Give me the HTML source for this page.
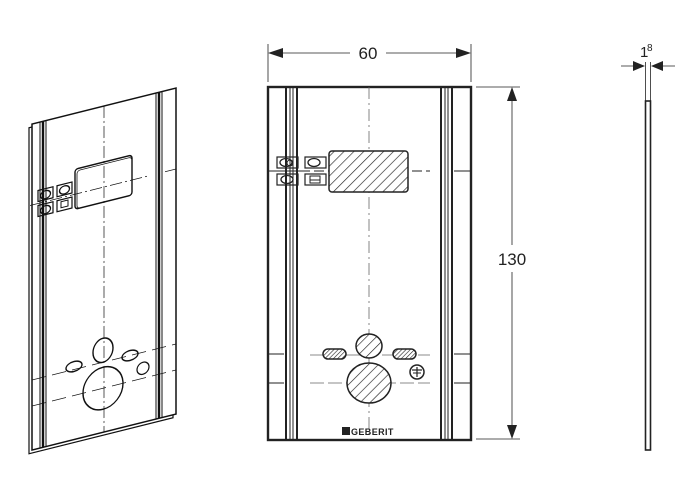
<!DOCTYPE html>
<html><head><style>
html,body{margin:0;padding:0;background:#fff;}
svg{display:block;}
text{font-family:"Liberation Sans",sans-serif;fill:#222;}
</style></head><body>
<svg width="687" height="479" viewBox="0 0 687 479" xmlns="http://www.w3.org/2000/svg">
<defs>
<pattern id="h" patternUnits="userSpaceOnUse" width="7" height="7" patternTransform="rotate(45)">
<rect width="7" height="7" fill="#fff"/><line x1="0" y1="0" x2="0" y2="7" stroke="#222" stroke-width="1.3"/>
</pattern>
<pattern id="h2" patternUnits="userSpaceOnUse" width="3" height="3" patternTransform="rotate(45)">
<rect width="3" height="3" fill="#fff"/><line x1="0" y1="0" x2="0" y2="3" stroke="#222" stroke-width="1.2"/>
</pattern>
</defs>

<!-- ISOMETRIC VIEW -->
<g transform="matrix(1,-0.25,0,1,0,8)" stroke="#111" fill="none">
  <rect x="29" y="127" width="144" height="326" stroke-width="1.2"/>
  <rect x="32" y="124" width="144" height="326" fill="#fff" stroke-width="1.5"/>
  <line x1="40" y1="124" x2="40" y2="450" stroke-width="1"/>
  <line x1="43" y1="124" x2="43" y2="450" stroke-width="2.4"/>
  <line x1="46" y1="124" x2="46" y2="450" stroke-width="1"/>
  <line x1="156" y1="124" x2="156" y2="450" stroke-width="1"/>
  <line x1="159" y1="124" x2="159" y2="450" stroke-width="2.4"/>
  <line x1="162" y1="124" x2="162" y2="450" stroke-width="1"/>
  <line x1="104" y1="124" x2="104" y2="450" stroke-width="0.7" stroke-dasharray="12,3,2,3"/>
  <rect x="75" y="180" width="57" height="40" rx="3" stroke-width="1.4"/>
  <rect x="77" y="182" width="55" height="38" rx="3" stroke-width="0.8"/>
  <line x1="30" y1="205" x2="150" y2="205" stroke-width="0.7" stroke-dasharray="12,3,2,3"/>
  <line x1="165" y1="205" x2="176" y2="205" stroke-width="0.7"/>
  <rect x="38" y="192" width="15" height="11" stroke-width="1.2"/>
  <rect x="57" y="192" width="15" height="11" stroke-width="1.2"/>
  <rect x="38" y="207" width="15" height="11" stroke-width="1.2"/>
  <rect x="57" y="207" width="15" height="11" stroke-width="1.2"/>
  <ellipse cx="45.5" cy="198" rx="5" ry="4" stroke-width="1.3"/><ellipse cx="64.5" cy="198" rx="5" ry="4" stroke-width="1.3"/>
  <ellipse cx="45.5" cy="213" rx="5" ry="4" stroke-width="1.3"/><rect x="61" y="209" width="7" height="6"/>
  <ellipse cx="103" cy="368" rx="10" ry="12" stroke-width="1.4"/>
  <ellipse cx="103" cy="406" rx="20" ry="21" stroke-width="1.4"/>
  <ellipse cx="74" cy="377" rx="8" ry="5" stroke-width="1.4"/>
  <ellipse cx="130" cy="380" rx="8" ry="5" stroke-width="1.4"/>
  <circle cx="143" cy="396" r="6" stroke-width="1.2"/>
  <line x1="32" y1="380" x2="176" y2="380" stroke-width="0.7" stroke-dasharray="14,6"/>
  <line x1="32" y1="406" x2="176" y2="406" stroke-width="0.7" stroke-dasharray="14,6"/>
</g>

<!-- FRONT VIEW -->
<g stroke="#222" fill="none">
  <rect x="268" y="87" width="203" height="353" stroke-width="2.4"/>
  <line x1="286" y1="87" x2="286" y2="440" stroke-width="2"/>
  <line x1="290" y1="87" x2="290" y2="440" stroke-width="1"/>
  <line x1="293" y1="87" x2="293" y2="440" stroke-width="1"/>
  <line x1="297" y1="87" x2="297" y2="440" stroke-width="2"/>
  <line x1="441" y1="87" x2="441" y2="440" stroke-width="2"/>
  <line x1="445" y1="87" x2="445" y2="440" stroke-width="1"/>
  <line x1="448" y1="87" x2="448" y2="440" stroke-width="1"/>
  <line x1="452" y1="87" x2="452" y2="440" stroke-width="2"/>
  <line x1="369" y1="87" x2="369" y2="440" stroke="#666" stroke-width="0.8" stroke-dasharray="12,4,2,4"/>
  <line x1="268" y1="171" x2="300" y2="171" stroke-width="1"/>
  <line x1="300" y1="171" x2="430" y2="171" stroke-width="1" stroke-dasharray="10,4"/>
  <line x1="454" y1="171" x2="471" y2="171" stroke-width="1"/>
  <rect x="329" y="151" width="79" height="41" rx="3" fill="url(#h)" stroke-width="1.5"/>
  <rect x="277" y="157" width="21" height="11" stroke-width="1.2"/>
  <rect x="305" y="157" width="21" height="11" stroke-width="1.2"/>
  <rect x="277" y="174" width="21" height="11" stroke-width="1.2"/>
  <rect x="305" y="174" width="21" height="11" stroke-width="1.2"/>
  <ellipse cx="286" cy="162.5" rx="6" ry="4" stroke-width="1.3"/><circle cx="290" cy="163" r="3" stroke-width="1"/>
  <ellipse cx="314" cy="162.5" rx="6" ry="4" stroke-width="1.3"/>
  <ellipse cx="287" cy="179.5" rx="6" ry="4" stroke-width="1.3"/>
  <rect x="310" y="176" width="10" height="7" stroke-width="1"/><line x1="310" y1="180" x2="320" y2="180" stroke-width="1"/>
  <line x1="268" y1="354" x2="284" y2="354" stroke-width="1"/>
  <line x1="454" y1="354" x2="471" y2="354" stroke-width="1"/>
  <line x1="268" y1="383" x2="284" y2="383" stroke-width="1"/>
  <line x1="454" y1="383" x2="471" y2="383" stroke-width="1"/>
  <line x1="310" y1="355" x2="430" y2="355" stroke="#666" stroke-width="0.8" stroke-dasharray="14,4"/>
  <line x1="310" y1="383" x2="430" y2="383" stroke="#666" stroke-width="0.8" stroke-dasharray="14,4"/>
  <ellipse cx="369" cy="346" rx="13" ry="12" fill="url(#h)" stroke-width="1.5"/>
  <ellipse cx="369" cy="383" rx="22" ry="20" fill="url(#h)" stroke-width="1.5"/>
  <rect x="323" y="349" width="23" height="10" rx="5" fill="url(#h2)" stroke-width="1.5"/>
  <rect x="393" y="349" width="23" height="10" rx="5" fill="url(#h2)" stroke-width="1.5"/>
  <circle cx="417" cy="372" r="7" fill="#fff" stroke-width="1.5"/>
  <line x1="412" y1="370" x2="422" y2="370" stroke-width="1.2"/>
  <line x1="417" y1="367" x2="417" y2="377" stroke-width="1.2"/>
  <line x1="413" y1="373" x2="421" y2="373" stroke-width="1"/>
</g>
<rect x="342" y="427" width="8" height="8" fill="#222"/>
<text x="351" y="435" font-size="9" font-weight="bold" letter-spacing="0.4">GEBERIT</text>

<!-- width dimension -->
<g stroke="#222" fill="#222">
  <line x1="268" y1="44" x2="268" y2="82" stroke-width="0.8"/>
  <line x1="471" y1="44" x2="471" y2="82" stroke-width="0.8"/>
  <line x1="270" y1="53" x2="350" y2="53" stroke-width="0.8"/>
  <line x1="386" y1="53" x2="469" y2="53" stroke-width="0.8"/>
  <polygon points="268,53 283,48 283,58" stroke="none"/>
  <polygon points="471,53 456,48 456,58" stroke="none"/>
  <line x1="476" y1="87" x2="520" y2="87" stroke-width="0.8"/>
  <line x1="476" y1="439" x2="520" y2="439" stroke-width="0.8"/>
  <line x1="512" y1="89" x2="512" y2="245" stroke-width="0.8"/>
  <line x1="512" y1="272" x2="512" y2="437" stroke-width="0.8"/>
  <polygon points="512,87 507,101 517,101" stroke="none"/>
  <polygon points="512,439 507,425 517,425" stroke="none"/>
</g>
<text x="368" y="59" font-size="17" text-anchor="middle">60</text>
<text x="512" y="265" font-size="17" text-anchor="middle">130</text>

<!-- side view -->
<g stroke="#222" fill="#222">
  <rect x="645.5" y="101" width="5" height="349" fill="none" stroke-width="1.6"/>
  <line x1="645.5" y1="62" x2="645.5" y2="101" stroke-width="0.8"/>
  <line x1="650.5" y1="62" x2="650.5" y2="101" stroke-width="0.8"/>
  <line x1="621" y1="66" x2="640" y2="66" stroke-width="0.8"/>
  <line x1="656" y1="66" x2="675" y2="66" stroke-width="0.8"/>
  <polygon points="645,66 633,61 633,71" stroke="none"/>
  <polygon points="651,66 663,61 663,71" stroke="none"/>
</g>
<text x="640" y="57" font-size="15">1</text>
<text x="647" y="51" font-size="10">8</text>
</svg>
</body></html>
